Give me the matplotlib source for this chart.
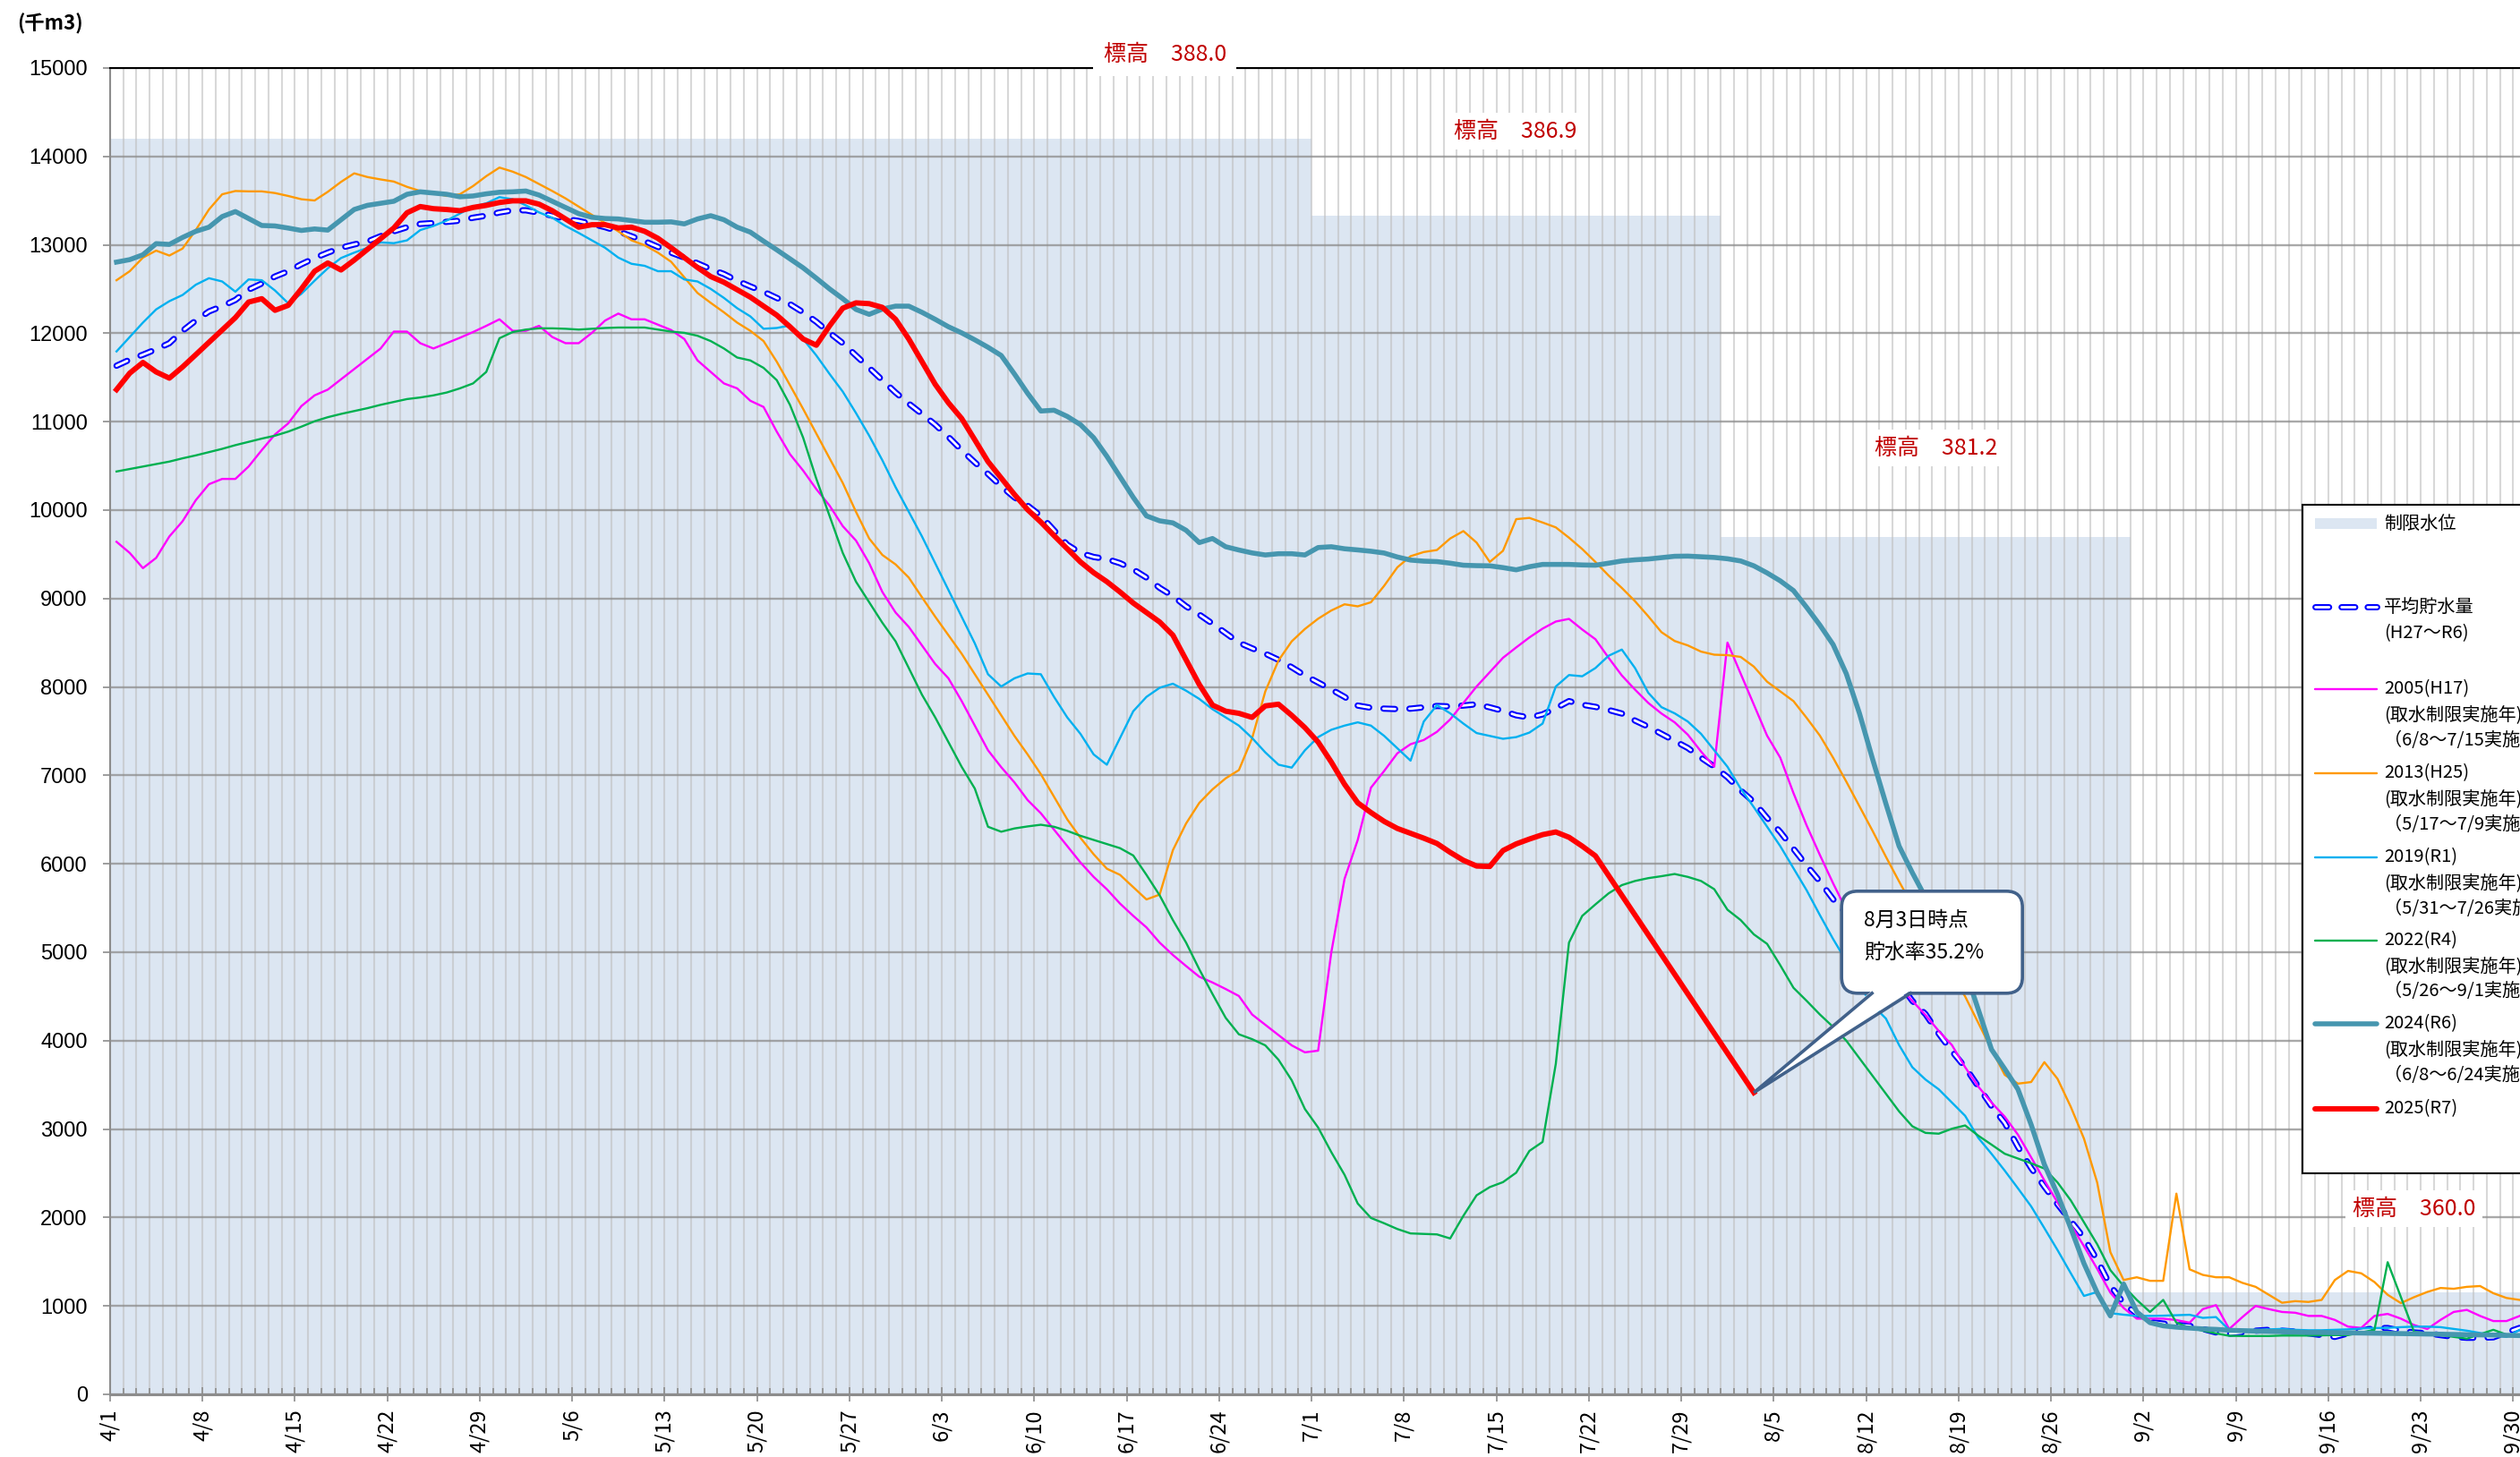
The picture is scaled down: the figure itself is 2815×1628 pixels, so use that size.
import matplotlib
matplotlib.use("Agg")
import matplotlib.pyplot as plt
import numpy as np
from matplotlib.ticker import MultipleLocator
from matplotlib.patches import Rectangle, FancyBboxPatch, Polygon
from matplotlib.lines import Line2D
from matplotlib.transforms import IdentityTransform

plt.rcParams['font.family'] = ['Noto Sans CJK JP', 'DejaVu Sans']
plt.rcParams['lines.scale_dashes'] = False

# ---------------- data (千m3, one value per day from 4/1) ----------------
month_start = {4: 0, 5: 30, 6: 61, 7: 91, 8: 122, 9: 153}


def day_index(md):
    m, d = md.split('/')
    return month_start[int(m)] + int(d) - 1


xtick_labels = ['4/1', '4/8', '4/15', '4/22', '4/29', '5/6', '5/13', '5/20',
                '5/27', '6/3', '6/10', '6/17', '6/24', '7/1', '7/8', '7/15',
                '7/22', '7/29', '8/5', '8/12', '8/19', '8/26', '9/2', '9/9',
                '9/16', '9/23', '9/30']

# restricted water level (制限水位)
limit_start = ['4/1', '7/1', '8/1', '9/1']
limit_level = [14200, 13330, 9700, 1150]

avg_h27_r6 = [
    11633, 11702, 11758, 11819, 11888, 12028, 12144, 12247, 12307, 12377,
    12493, 12563, 12642, 12702, 12781, 12851, 12912, 12967, 13005, 13037,
    13098, 13153, 13200, 13237, 13247, 13260, 13274, 13307, 13330, 13367,
    13391, 13391, 13363, 13330, 13293, 13270, 13237, 13200, 13153, 13098,
    13042, 12977, 12912, 12856, 12791, 12726, 12670, 12595, 12530, 12470,
    12400, 12330, 12237, 12130, 12005, 11888, 11749, 11609, 11470, 11330,
    11205,
    11088, 10967, 10828, 10679, 10540, 10409, 10270, 10144, 10051, 9935,
    9772, 9609, 9516, 9470, 9447, 9400, 9330, 9237, 9121, 9028,
    8912, 8819, 8716, 8609, 8502, 8437, 8377, 8307, 8223, 8130,
    8051, 7972, 7888, 7790, 7765, 7755, 7750, 7755, 7770, 7785,
    7780, 7790, 7805, 7770, 7730, 7680, 7655, 7690, 7760, 7840,
    7800, 7775, 7740, 7700, 7620, 7550, 7470, 7390, 7310, 7200, 7100,
    6980, 6830, 6700, 6520, 6360, 6170, 5980, 5800, 5600, 5440,
    5250, 5050, 4850, 4650, 4450, 4300, 4080, 3880, 3700, 3480,
    3260, 3070, 2800, 2560, 2350, 2150, 1960, 1770, 1520, 1230, 1030,
    910, 820, 800, 785, 775, 740, 700, 685, 700, 720,
    730, 720, 710, 690, 670, 650, 690, 720, 750, 750,
    720, 700, 690, 670, 650, 640, 640, 645, 700, 752]

y2005 = [
    9642, 9516, 9344, 9460, 9702, 9874, 10112, 10293, 10353, 10353,
    10493, 10679, 10856, 10981, 11177, 11298, 11363, 11479, 11595, 11712,
    11828, 12019, 12019, 11888, 11828, 11888, 11949, 12014, 12084, 12158,
    12028, 12028, 12084, 11958, 11888, 11888, 12005, 12144, 12223, 12158,
    12158, 12098, 12037, 11935, 11693, 11563, 11433, 11377, 11237, 11167,
    10888, 10633, 10447, 10237, 10051, 9819, 9656, 9400, 9074, 8842, 8679,
    8470, 8260, 8098, 7842, 7563, 7284, 7093, 6921, 6721, 6572,
    6387, 6201, 6015, 5852, 5712, 5550, 5411, 5281, 5109, 4969,
    4844, 4723, 4658, 4584, 4505, 4296, 4179, 4063, 3947, 3868,
    3887, 5000, 5829, 6270, 6861, 7050, 7250, 7353, 7400, 7493,
    7633, 7819, 8005, 8167, 8330, 8447, 8560, 8660, 8740, 8770,
    8650, 8540, 8330, 8130, 7970, 7820, 7700, 7600, 7460, 7270, 7098,
    8502, 8150, 7800, 7450, 7200, 6800, 6433, 6100, 5780, 5480,
    5250, 5000, 4800, 4620, 4450, 4290, 4110, 3950, 3700, 3480,
    3300, 3140, 2937, 2680, 2420, 2171, 1920, 1676, 1420, 1150, 977,
    856, 856, 856, 840, 811, 964, 1009, 739, 874, 1000,
    964, 932, 923, 887, 887, 842, 766, 752, 887, 910,
    856, 784, 739, 842, 932, 955, 887, 829, 829, 887]

y2013 = [
    12600, 12702, 12856, 12935, 12879, 12958, 13167, 13400, 13572, 13609,
    13605, 13605, 13586, 13553, 13516, 13502, 13600, 13712, 13809, 13767,
    13740, 13716, 13656, 13609, 13586, 13553, 13572, 13665, 13777, 13874,
    13828, 13767, 13688, 13609, 13526, 13433, 13340, 13247, 13153, 13051,
    12995, 12912, 12809, 12633, 12456, 12344, 12237, 12121, 12028, 11912,
    11679, 11414, 11144, 10865, 10586, 10307, 9981, 9679, 9493, 9386, 9237,
    9014, 8795, 8586, 8377, 8144, 7912, 7679, 7447, 7237, 7014,
    6758, 6503, 6294, 6108, 5945, 5875, 5736, 5597, 5652, 6154,
    6456, 6689, 6842, 6967, 7060, 7420, 7950, 8300, 8516, 8656,
    8772, 8865, 8935, 8912, 8958, 9144, 9353, 9479, 9526, 9549,
    9679, 9763, 9633, 9414, 9540, 9898, 9912, 9860, 9805, 9688,
    9560, 9414, 9260, 9120, 8970, 8800, 8620, 8520, 8470, 8400, 8365,
    8360, 8340, 8230, 8060, 7950, 7840, 7650, 7450, 7200, 6930,
    6650, 6370, 6080, 5800, 5530, 5280, 5020, 4740, 4500, 4200,
    3900, 3613, 3514, 3532, 3757, 3568, 3252, 2892, 2396, 1608, 1293,
    1324, 1284, 1284, 2270, 1414, 1351, 1324, 1324, 1261, 1216,
    1126, 1036, 1054, 1045, 1068, 1293, 1396, 1369, 1270, 1126,
    1032, 1099, 1158, 1203, 1194, 1216, 1225, 1144, 1090, 1068]

y2019 = [
    11795, 11958, 12121, 12270, 12363, 12433, 12549, 12623, 12586, 12470,
    12609, 12600, 12484, 12340, 12447, 12595, 12735, 12851, 12912, 12967,
    13028, 13019, 13051, 13167, 13214, 13274, 13353, 13433, 13470, 13540,
    13516, 13447, 13367, 13307, 13214, 13135, 13051, 12967, 12856, 12786,
    12763, 12702, 12702, 12609, 12586, 12502, 12400, 12284, 12191, 12051,
    12060, 12088, 11935, 11749, 11540, 11340, 11098, 10842, 10563, 10260, 9981,
    9702, 9400, 9098, 8795, 8493, 8144, 8005, 8098, 8153, 8144,
    7888, 7656, 7470, 7237, 7121, 7423, 7726, 7888, 7991, 8037,
    7958, 7865, 7749, 7656, 7563, 7423, 7260, 7121, 7088, 7284,
    7433, 7516, 7563, 7600, 7563, 7447, 7307, 7167, 7609, 7795,
    7702, 7586, 7479, 7447, 7414, 7433, 7484, 7586, 8005, 8135,
    8121, 8214, 8353, 8423, 8214, 7935, 7772, 7702, 7609, 7470, 7284,
    7098, 6851, 6640, 6420, 6200, 5950, 5700, 5420, 5150, 4900,
    4620, 4400, 4250, 3950, 3700, 3560, 3450, 3300, 3150, 2900,
    2720, 2530, 2330, 2126, 1880, 1631, 1370, 1113, 1158, 919, 901,
    887, 887, 890, 895, 900, 865, 874, 730, 730, 730,
    735, 740, 730, 725, 725, 730, 735, 745, 750, 752,
    760, 766, 766, 760, 740, 720, 694, 670, 649, 730]

y2022 = [
    10437, 10465, 10493, 10521, 10549, 10586, 10619, 10656, 10693, 10735,
    10772, 10809, 10842, 10888, 10944, 11005, 11051, 11088, 11121, 11153,
    11191, 11223, 11256, 11274, 11298, 11330, 11377, 11433, 11563, 11944,
    12014, 12042, 12056, 12056, 12051, 12042, 12051, 12060, 12065, 12065,
    12065, 12042, 12019, 12005, 11972, 11912, 11828, 11726, 11693, 11609,
    11470, 11191, 10819, 10353, 9935, 9516, 9191, 8958, 8726, 8516, 8214,
    7912, 7656, 7377, 7098, 6851, 6419, 6363, 6400, 6423, 6442,
    6419, 6373, 6317, 6270, 6224, 6177, 6094, 5875, 5643, 5364,
    5109, 4807, 4528, 4258, 4072, 4017, 3947, 3784, 3552, 3227,
    3018, 2739, 2483, 2158, 1995, 1935, 1870, 1820, 1815, 1809,
    1763, 2019, 2251, 2344, 2400, 2507, 2753, 2855, 3738, 5109,
    5411, 5541, 5666, 5759, 5806, 5838, 5860, 5885, 5852, 5806, 5713,
    5481, 5364, 5202, 5095, 4853, 4598, 4450, 4296, 4156, 4000,
    3800, 3599, 3400, 3200, 3032, 2957, 2948, 3004, 3041, 2925,
    2824, 2721, 2667, 2613, 2554, 2396, 2194, 1946, 1698, 1405, 1225,
    1068, 932, 1068, 811, 752, 720, 690, 662, 660, 660,
    660, 665, 665, 665, 668, 670, 670, 700, 730, 1495,
    1100, 707, 690, 670, 650, 630, 680, 730, 676, 662]

y2024 = [
    12805, 12833, 12888, 13014, 13005, 13084, 13153, 13200, 13320, 13377,
    13298, 13219, 13214, 13190, 13163, 13180, 13167, 13284, 13400, 13447,
    13470, 13493, 13572, 13600, 13586, 13572, 13544, 13553, 13577, 13595,
    13600, 13609, 13563, 13493, 13423, 13353, 13312, 13298, 13293, 13274,
    13256, 13256, 13260, 13237, 13293, 13330, 13284, 13200, 13144, 13042,
    12944, 12842, 12740, 12623, 12502, 12391, 12270, 12214, 12274, 12307, 12307,
    12237, 12158, 12074, 12005, 11926, 11842, 11749, 11540, 11321, 11121,
    11130, 11060, 10967, 10819, 10609, 10377, 10144, 9935, 9879, 9856,
    9772, 9633, 9679, 9586, 9549, 9516, 9493, 9507, 9507, 9493,
    9577, 9586, 9563, 9550, 9535, 9515, 9470, 9435, 9423, 9418,
    9400, 9377, 9372, 9370, 9350, 9325, 9360, 9386, 9386, 9386,
    9380, 9377, 9400, 9425, 9438, 9447, 9462, 9478, 9480, 9472, 9465,
    9450, 9425, 9370, 9290, 9200, 9090, 8900, 8700, 8480, 8150,
    7700, 7180, 6680, 6200, 5900, 5620, 5350, 5100, 4800, 4350,
    3900, 3680, 3450, 3050, 2600, 2261, 1880, 1480, 1150, 887, 1248,
    932, 811, 775, 760, 750, 740, 735, 725, 720, 715,
    712, 710, 705, 700, 700, 698, 695, 695, 693, 690,
    688, 685, 682, 680, 678, 675, 672, 670, 668, 665]

# 2025: daily values 4/1 - 7/22, then the latest observation on 8/3
y2025 = [
    11363, 11549, 11670, 11563, 11493, 11619, 11758, 11898, 12037, 12177,
    12353, 12391, 12260, 12316, 12502, 12702, 12795, 12716, 12828, 12949,
    13070, 13191, 13363, 13433, 13409, 13400, 13386, 13423, 13447, 13479,
    13498, 13498, 13460, 13386, 13293, 13200, 13228, 13228, 13191, 13200,
    13153, 13074, 12967, 12856, 12744, 12642, 12577, 12493, 12409, 12307,
    12205, 12074, 11935, 11865, 12084, 12284, 12344, 12335, 12293, 12158, 11935,
    11679, 11423, 11214, 11037, 10795, 10549, 10363, 10177, 10005, 9865,
    9712, 9563, 9414, 9293, 9191, 9074, 8949, 8842, 8735, 8586,
    8307, 8028, 7795, 7726, 7702, 7656, 7786, 7805, 7679, 7540,
    7377, 7150, 6900, 6690, 6580, 6480, 6400, 6345, 6290, 6230,
    6130, 6040, 5975, 5970, 6150, 6225, 6280, 6330, 6360, 6300,
    6200, 6090]
y2025_latest = ('8/3', 3413)

for s in (avg_h27_r6, y2005, y2013, y2019, y2022, y2024):
    assert len(s) == 183, len(s)

# ---------------- figure ----------------
W, H = 2815, 1628
DAY_PX = 14.75
fig = plt.figure(figsize=(W / 100, H / 100), dpi=100)
ax = fig.add_axes([122.8 / W, 1 - 1558 / H, (W - 122.8) / W, (1558 - 76) / H])

days = np.arange(183)

# restricted level as a stepped area (steps on the day boundaries)
edges = [day_index(s) - 0.5 for s in limit_start] + [182.5]
ax.stairs(limit_level, edges, fill=True, color='#DCE6F2', lw=0, zorder=1)

# average: blue outlined dashes (white core)
avg_dash = (0, (9.4, 11.5))
ax.plot(days, avg_h27_r6, color='#0000FF', lw=5.0, ls=avg_dash,
        dash_capstyle='round', zorder=3)
ax.plot(days, avg_h27_r6, color='white', lw=2.0, ls=avg_dash,
        dash_capstyle='round', zorder=3.1)

ax.plot(days, y2005, color='#FF00FF', lw=1.7, zorder=4)
ax.plot(days, y2013, color='#FF9900', lw=1.7, zorder=4.1)
ax.plot(days, y2019, color='#00B0F0', lw=1.7, zorder=4.2)
ax.plot(days, y2022, color='#00B050', lw=1.7, zorder=4.3)
ax.plot(days, y2024, color='#4696AF', lw=4.0, zorder=5,
        solid_joinstyle='round')

r7_x = list(range(len(y2025))) + [day_index(y2025_latest[0])]
r7_y = y2025 + [y2025_latest[1]]
ax.plot(r7_x, r7_y, color='#FF0000', lw=4.3, zorder=6, solid_joinstyle='round')

# ---------------- axes styling ----------------
ax.set_xlim(-0.5, -0.5 + (W - 122.8) / DAY_PX)
ax.set_ylim(0, 15000)
ax.set_axisbelow('line')

ax.set_xticks([day_index(t) - 0.5 for t in xtick_labels], xtick_labels)
ax.xaxis.set_minor_locator(MultipleLocator(1, offset=0.5))
ax.yaxis.set_major_locator(MultipleLocator(1000))

ax.grid(axis='x', which='both', color='#BFBFBF', alpha=0.6, lw=1.5)
ax.grid(axis='y', which='major', color='#8C8C8C', alpha=0.75, lw=1.7)

ax.tick_params(axis='x', which='minor', direction='in', length=5, width=1.2,
               color='#8C8C8C')
ax.tick_params(axis='x', which='major', direction='inout', length=12,
               width=1.2, color='#8C8C8C', pad=6, labelsize=17)
ax.tick_params(axis='y', which='major', direction='out', length=6, width=1.2,
               color='#8C8C8C', pad=12, labelsize=17)
for t in ax.get_xticklabels():
    t.set_rotation(90)
    t.set_va('top')
    t.set_ha('center')
for t in ax.get_yticklabels():
    t.set_fontfamily(['Liberation Sans', 'DejaVu Sans'])

ax.spines['right'].set_visible(False)
ax.spines['top'].set_color('black')
ax.spines['top'].set_linewidth(1.5)
ax.spines['left'].set_color('#8C8C8C')
ax.spines['left'].set_linewidth(1.5)
ax.spines['bottom'].set_color('#8C8C8C')
ax.spines['bottom'].set_linewidth(2.2)

fig.text(56 / W, 1 - 27 / H, '(千m3)', fontsize=16, fontweight='bold',
         ha='center', va='center')

# elevation labels
elev_labels = [('標高\u3000388.0', 79.4, 15155, 0.45),
               ('標高\u3000386.9', 105.9, 14284, 0.3),
               ('標高\u3000381.2', 137.8, 10700, 0.3),
               ('標高\u3000360.0', 174.0, 2096, 0.3)]
for txt, x, y, pad in elev_labels:
    ax.text(x, y, txt, color='#C00000', fontsize=18, ha='center', va='center',
            zorder=7, bbox=dict(boxstyle='square,pad=%s' % pad, fc='white',
                                ec='none'))

# ---------------- callout at the latest 2025 value ----------------
tx, ty = ax.transData.transform((day_index(y2025_latest[0]), y2025_latest[1]))
edge_c = '#41618A'
box = FancyBboxPatch((tx + 98, ty + 111), 202, 114,
                     boxstyle='round,pad=0,rounding_size=18',
                     transform=IdentityTransform(), fc='white', ec=edge_c,
                     lw=2.6, zorder=30)
fig.add_artist(box)
fig.add_artist(Polygon([(tx, ty), (tx + 132, ty + 114), (tx + 175, ty + 114)],
                       closed=True, transform=IdentityTransform(), fc='white',
                       ec='none', zorder=31))
fig.add_artist(Line2D([tx + 132, tx, tx + 175], [ty + 111, ty, ty + 111],
                      transform=IdentityTransform(), color=edge_c, lw=2.6,
                      solid_joinstyle='miter', zorder=32))
fig.text(tx + 123, ty + 192, '8月3日時点', transform=IdentityTransform(),
         fontsize=16.5, ha='left', va='center', zorder=33)
fig.text(tx + 123, ty + 156, '貯水率35.2%', transform=IdentityTransform(),
         fontsize=16.5, ha='left', va='center', zorder=33)

# ---------------- legend (drawn in image pixel coordinates) ----------------
def fpx(x, y):
    return x / W, 1 - y / H


lx0, ltop, lbot = 2572, 564, 1311
fig.add_artist(Rectangle(fpx(lx0, lbot), (W + 40 - lx0) / W, (lbot - ltop) / H,
                         transform=fig.transFigure, fc='white', ec='black',
                         lw=1.5, zorder=20))
sx0, sx1, tx0 = 2586, 2655, 2663
fig.add_artist(Rectangle(fpx(sx0, 591), (sx1 - sx0) / W, 12 / H,
                         transform=fig.transFigure, fc='#DCE6F2', ec='none',
                         zorder=21))
leg_fs = 14.5
fig.text(*fpx(tx0, 585), '制限水位', fontsize=leg_fs, va='center', zorder=22)

yl = 1 - 678 / H
leg_dash = (0, (11.0, 10.0))
fig.add_artist(Line2D([sx0 / W, sx1 / W], [yl, yl], transform=fig.transFigure,
                      color='#0000FF', lw=5.0, ls=leg_dash,
                      dash_capstyle='round', zorder=21))
fig.add_artist(Line2D([sx0 / W, sx1 / W], [yl, yl], transform=fig.transFigure,
                      color='white', lw=2.0, ls=leg_dash,
                      dash_capstyle='round', zorder=21.5))
fig.text(*fpx(tx0, 678), '平均貯水量', fontsize=leg_fs, va='center', zorder=22)
fig.text(*fpx(tx0, 708), '(H27～R6)', fontsize=leg_fs, va='center', zorder=22)

legend_rows = [
    ('#FF00FF', 1.7, 770, ['2005(H17)', '(取水制限実施年)', '（6/8～7/15実施）']),
    ('#FF9900', 1.7, 864, ['2013(H25)', '(取水制限実施年)', '（5/17～7/9実施）']),
    ('#00B0F0', 1.7, 958, ['2019(R1)', '(取水制限実施年)', '（5/31～7/26実施）']),
    ('#00B050', 1.7, 1051, ['2022(R4)', '(取水制限実施年)', '（5/26～9/1実施）']),
    ('#4696AF', 4.0, 1144, ['2024(R6)', '(取水制限実施年)', '（6/8～6/24実施）']),
    ('#FF0000', 4.3, 1239, ['2025(R7)']),
]
for color, lw, y, texts in legend_rows:
    yl = 1 - y / H
    fig.add_artist(Line2D([sx0 / W, sx1 / W], [yl, yl],
                          transform=fig.transFigure, color=color, lw=lw,
                          solid_capstyle='round', zorder=21))
    for i, t in enumerate(texts):
        fig.text(*fpx(tx0, y + i * 28.5), t, fontsize=leg_fs, va='center',
                 zorder=22)

fig.savefig('out.png', dpi=100)
